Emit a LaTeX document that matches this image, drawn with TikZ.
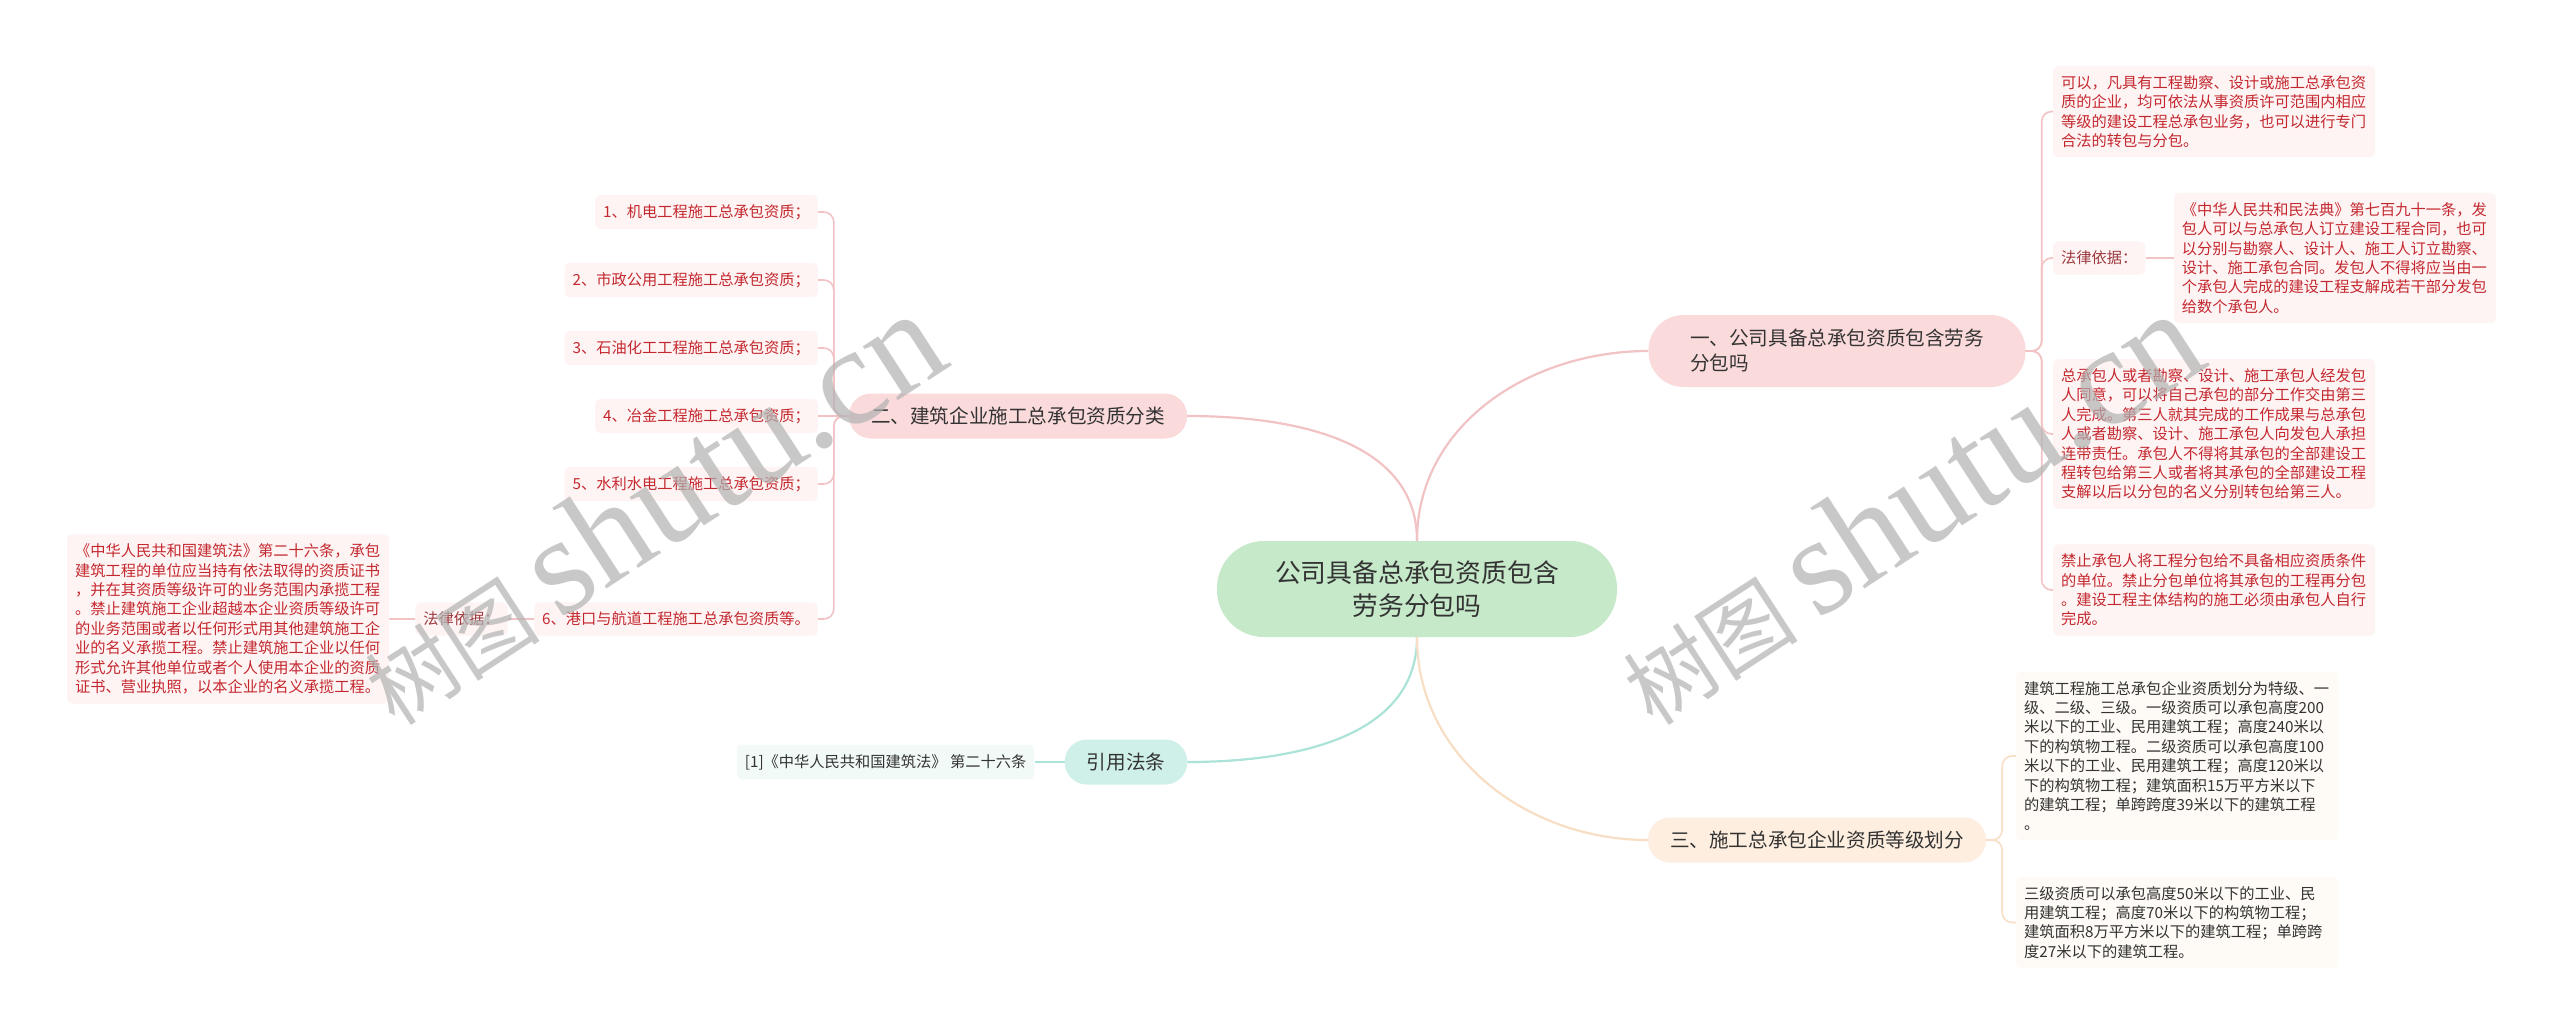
\documentclass[tikz,border=0pt]{standalone}
\usepackage{fontspec}
\setmainfont{Noto Sans CJK SC}
\newfontfamily\wmfont{Liberation Serif}
\usetikzlibrary{positioning}

\definecolor{rootfill}{HTML}{C6E9C9}
\definecolor{pinkfill}{HTML}{FADADB}
\definecolor{mintfill}{HTML}{CFF0E9}
\definecolor{peachfill}{HTML}{FDEEDF}
\definecolor{pinkleaf}{HTML}{FEF4F4}
\definecolor{mintleaf}{HTML}{F2FAF8}
\definecolor{peachleaf}{HTML}{FEFAF5}
\definecolor{pinkline}{HTML}{F2C3C5}
\definecolor{mintline}{HTML}{ABE3D8}
\definecolor{peachline}{HTML}{F8DEC4}
\definecolor{leafred}{HTML}{C4282F}
\definecolor{lawred}{HTML}{9C3A3E}
\definecolor{darktext}{HTML}{333333}

\begin{document}
\begin{tikzpicture}[
    x=1pt, y=-1pt,
    box/.style = {rectangle, rounded corners=22pt, minimum height=45pt, inner xsep=22pt,
                  text=darktext, font=\fontsize{19.6}{25}\selectfont},
    leaf/.style = {rectangle, rounded corners=5pt, inner xsep=8pt, inner ysep=9.5pt,
                   align=left, font=\fontsize{15.25}{19.4}\selectfont},
    redleaf/.style = {leaf, fill=pinkleaf, text=leafred},
    lawlabel/.style = {leaf, fill=pinkleaf, text=lawred},
    greyleaf/.style = {leaf, fill=peachleaf, text=darktext},
    citeleaf/.style = {leaf, fill=mintleaf, text=darktext},
    mainpink/.style = {draw=pinkline, line width=2.2pt},
    mainmint/.style = {draw=mintline, line width=2.2pt},
    mainpeach/.style = {draw=peachline, line width=2.2pt},
    subpink/.style = {draw=pinkline, line width=1.6pt, rounded corners=10pt},
    submint/.style = {draw=mintline, line width=1.6pt},
    subpeach/.style = {draw=peachline, line width=1.6pt, rounded corners=10pt},
    watermark/.style = {text=black!30, text opacity=0.7, rotate=33}
]

    \useasboundingbox (0,0) rectangle (2560,1035);
    \fill[white] (0,0) rectangle (2560,1035);

    % Root
    \node[box, fill=rootfill, minimum width=400pt, minimum height=96pt, rounded corners=47pt,
          align=center, font=\fontsize{25.8}{33}\selectfont] (root) at (1417,589)
          {公司具备总承包资质包含\\劳务分包吗};

    % Main branches
    \node[box, fill=pinkfill, minimum width=377pt, minimum height=72pt, rounded corners=35pt,
          align=left] (q1) at (1837,351) {一、公司具备总承包资质包含劳务\\分包吗};
    \node[box, fill=pinkfill] (q2) at (1018,416) {二、建筑企业施工总承包资质分类};
    \node[box, fill=mintfill] (cite) at (1126,762) {引用法条};
    \node[box, fill=peachfill] (q3) at (1817,840) {三、施工总承包企业资质等级划分};

    % Branch one
    \node[redleaf, text width=306pt, anchor=west] (q1a) at (2053,111.5) {
        可以，凡具有工程勘察、设计或施工总承包资\\
        质的企业，均可依法从事资质许可范围内相应\\
        等级的建设工程总承包业务，也可以进行专门\\
        合法的转包与分包。};
    \node[lawlabel, anchor=west] (q1law) at (2053,258) {法律依据：};
    \node[redleaf, text width=306pt, right=28pt of q1law] (q1lawtext) {
        《中华人民共和民法典》第七百九十一条，发\\
        包人可以与总承包人订立建设工程合同，也可\\
        以分别与勘察人、设计人、施工人订立勘察、\\
        设计、施工承包合同。发包人不得将应当由一\\
        个承包人完成的建设工程支解成若干部分发包\\
        给数个承包人。};
    \node[redleaf, text width=306pt, anchor=west] (q1c) at (2053,434) {
        总承包人或者勘察、设计、施工承包人经发包\\
        人同意，可以将自己承包的部分工作交由第三\\
        人完成。第三人就其完成的工作成果与总承包\\
        人或者勘察、设计、施工承包人向发包人承担\\
        连带责任。承包人不得将其承包的全部建设工\\
        程转包给第三人或者将其承包的全部建设工程\\
        支解以后以分包的名义分别转包给第三人。};
    \node[redleaf, text width=306pt, anchor=west] (q1d) at (2053,590) {
        禁止承包人将工程分包给不具备相应资质条件\\
        的单位。禁止分包单位将其承包的工程再分包\\
        。建设工程主体结构的施工必须由承包人自行\\
        完成。};

    % Branch two
    \node[redleaf, anchor=east] (q2a) at (818,212) {1、机电工程施工总承包资质；};
    \node[redleaf, anchor=east] (q2b) at (818,280) {2、市政公用工程施工总承包资质；};
    \node[redleaf, anchor=east] (q2c) at (818,348) {3、石油化工工程施工总承包资质；};
    \node[redleaf, anchor=east] (q2d) at (818,416) {4、冶金工程施工总承包资质；};
    \node[redleaf, anchor=east] (q2e) at (818,484) {5、水利水电工程施工总承包资质；};
    \node[redleaf, anchor=east] (q2f) at (818,619) {6、港口与航道工程施工总承包资质等。};
    \node[lawlabel, left=26pt of q2f] (q2law) {法律依据：};
    \node[redleaf, text width=306pt, left=26pt of q2law] (q2lawtext) {
        《中华人民共和国建筑法》第二十六条，承包\\
        建筑工程的单位应当持有依法取得的资质证书\\
        ，并在其资质等级许可的业务范围内承揽工程\\
        。禁止建筑施工企业超越本企业资质等级许可\\
        的业务范围或者以任何形式用其他建筑施工企\\
        业的名义承揽工程。禁止建筑施工企业以任何\\
        形式允许其他单位或者个人使用本企业的资质\\
        证书、营业执照，以本企业的名义承揽工程。};

    % Citation
    \node[citeleaf, left=30pt of cite] (citea) {[1]《中华人民共和国建筑法》 第二十六条};

    % Branch three
    \node[greyleaf, text width=306pt, anchor=west] (q3a) at (2016,756) {
        建筑工程施工总承包企业资质划分为特级、一\\
        级、二级、三级。一级资质可以承包高度200\\
        米以下的工业、民用建筑工程；高度240米以\\
        下的构筑物工程。二级资质可以承包高度100\\
        米以下的工业、民用建筑工程；高度120米以\\
        下的构筑物工程；建筑面积15万平方米以下\\
        的建筑工程；单跨跨度39米以下的建筑工程\\
        。};
    \node[greyleaf, text width=306pt, anchor=west] (q3b) at (2016,922.5) {
        三级资质可以承包高度50米以下的工业、民\\
        用建筑工程；高度70米以下的构筑物工程；\\
        建筑面积8万平方米以下的建筑工程；单跨跨\\
        度27米以下的建筑工程。};

    % Main curves
    \draw[mainpink] (root.north) to[out=90, in=180] (q1.west);
    \draw[mainpink] (root.north) to[out=90, in=0] (q2.east);
    \draw[mainmint] (root.south) to[out=270, in=0] (cite.east);
    \draw[mainpeach] (root.south) to[out=270, in=180] (q3.west);

    % Sub branches
    \foreach \leaf in {q1a,q1law,q1c,q1d}
        \draw[subpink] (q1.east) -- ++(16,0) |- (\leaf.west);
    \draw[subpink] (q1law.east) -- (q1lawtext.west);
    \foreach \leaf in {q2a,q2b,q2c,q2e,q2f}
        \draw[subpink] (q2.west) -- ++(-15,0) |- (\leaf.east);
    \draw[subpink] (q2.west) -- (q2d.east);
    \draw[subpink] (q2f.west) -- (q2law.east);
    \draw[subpink] (q2law.west) -- (q2lawtext.east);
    \draw[submint] (cite.west) -- (citea.east);
    \foreach \leaf in {q3a,q3b}
        \draw[subpeach] (q3.east) -- ++(16,0) |- (\leaf.west);

    % Watermarks
    \node[watermark] (wm1) at (650,508)
        {\fontsize{88}{88}\selectfont 树图 {\wmfont\fontsize{140}{140}\selectfont shutu.cn}};
    \node[watermark] (wm2) at (1908,508)
        {\fontsize{88}{88}\selectfont 树图 {\wmfont\fontsize{140}{140}\selectfont shutu.cn}};

\end{tikzpicture}
\end{document}
